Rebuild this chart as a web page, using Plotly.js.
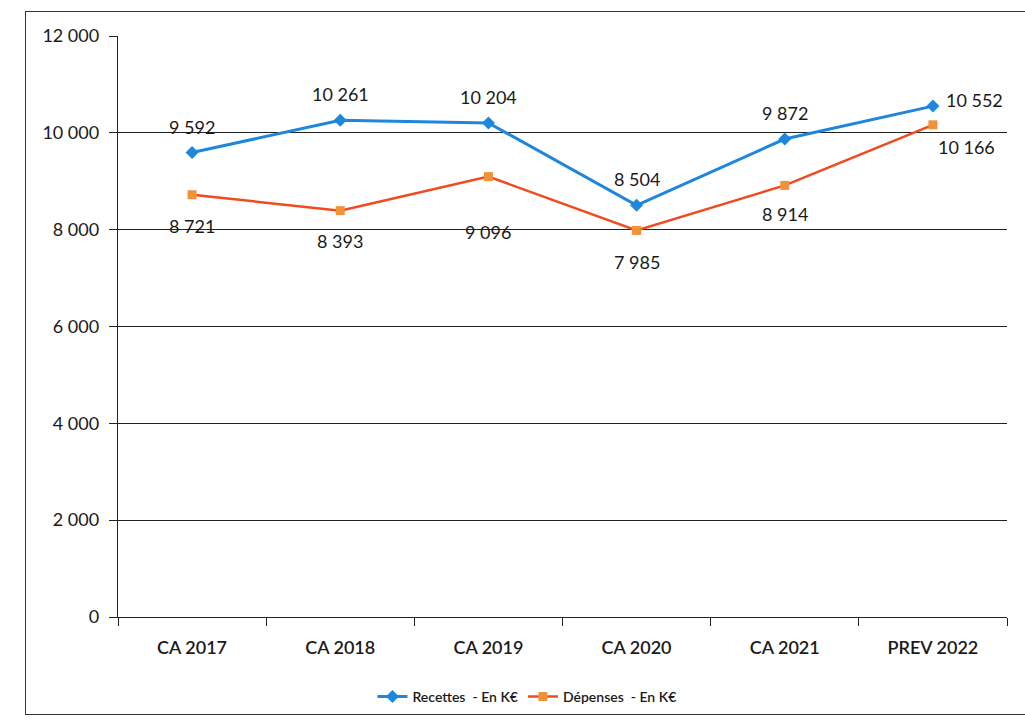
<!DOCTYPE html>
<html>
<head>
<meta charset="utf-8">
<script src="https://cdn.plot.ly/plotly-3.0.1.min.js"></script>
<style>
html,body{margin:0;padding:0;background:#fff;}
#wrap{position:relative;width:1025px;height:727px;}
#chart{width:1025px;height:727px;}
#frame{position:absolute;left:25px;top:11px;width:1010px;height:702px;border:1.5px solid #333;pointer-events:none;}
</style>
</head>
<body>
<div id="wrap"><div id="chart"></div><div id="frame"></div></div>
<script>
const categories = ["CA 2017","CA 2018","CA 2019","CA 2020","CA 2021","PREV 2022"];
const recettes = [9592, 10261, 10204, 8504, 9872, 10552];
const depenses = [8721, 8393, 9096, 7985, 8914, 10166];
const yTickVals = [0, 2000, 4000, 6000, 8000, 10000, 12000];
const yTickText = ["0","2\u00a0000","4\u00a0000","6\u00a0000","8\u00a0000","10\u00a0000","12\u00a0000"];

function fmt(v){ return String(v).replace(/\B(?=(\d{3})+(?!\d))/g, "\u00a0"); }

const font = "Lato, 'Open Sans', sans-serif";

const traces = [
  {
    x: categories, y: recettes, name: "Recettes  - En K€",
    type: "scatter", mode: "lines+markers",
    line: {color: "#1f86dd", width: 3},
    marker: {symbol: "diamond", size: 10, color: "#1f86dd"}
  },
  {
    x: categories, y: depenses, name: "Dépenses  - En K€",
    type: "scatter", mode: "lines+markers",
    line: {color: "#f04a1e", width: 2.5},
    marker: {symbol: "square", size: 9, color: "#f29238"}
  }
];

const recShift = [[0,26],[0,26],[0,26],[0,26],[0,26],[42,6]];
const depShift = [[0,-31],[0,-30],[0,-55],[0,-32],[0,-29],[34,-22]];
const annotations = [];
categories.forEach((c, i) => {
  annotations.push({x: c, y: recettes[i], text: fmt(recettes[i]), showarrow: false,
    xshift: recShift[i][0], yshift: recShift[i][1],
    font: {family: font, size: 18, color: "#1a1a1a"}});
  annotations.push({x: c, y: depenses[i], text: fmt(depenses[i]), showarrow: false,
    xshift: depShift[i][0], yshift: depShift[i][1],
    font: {family: font, size: 18, color: "#1a1a1a"}});
});

const layout = {
  width: 1025, height: 727,
  margin: {l: 118, r: 18, t: 36, b: 110},
  paper_bgcolor: "#fff", plot_bgcolor: "#fff",
  font: {family: font, color: "#1a1a1a"},
  showlegend: true,
  annotations: annotations,
  legend: {orientation: "h", x: 0.46, xanchor: "center", y: -0.11, yanchor: "top",
           font: {family: font, size: 14, color: "#1a1a1a", weight: 600}},
  xaxis: {
    type: "category", tickson: "boundaries", ticks: "outside", ticklen: 8,
    tickcolor: "#222", showline: true, linecolor: "#222", linewidth: 1.2,
    showgrid: false, tickfont: {family: font, size: 18, color: "#1a1a1a", weight: 600},
    ticklabelstandoff: 14,
    range: [-0.5, 5.5]
  },
  yaxis: {
    range: [0, 12000], tickvals: yTickVals, ticktext: yTickText,
    ticks: "outside", ticklen: 8, tickcolor: "#222",
    showline: true, linecolor: "#222", linewidth: 1.2,
    showgrid: true, gridcolor: "#222", gridwidth: 1, zeroline: false,
    ticklabelstandoff: 6,
    tickfont: {family: font, size: 18, color: "#1a1a1a"}
  }
};

Plotly.newPlot("chart", traces, layout, {displayModeBar: false, staticPlot: true});
</script>
</body>
</html>
